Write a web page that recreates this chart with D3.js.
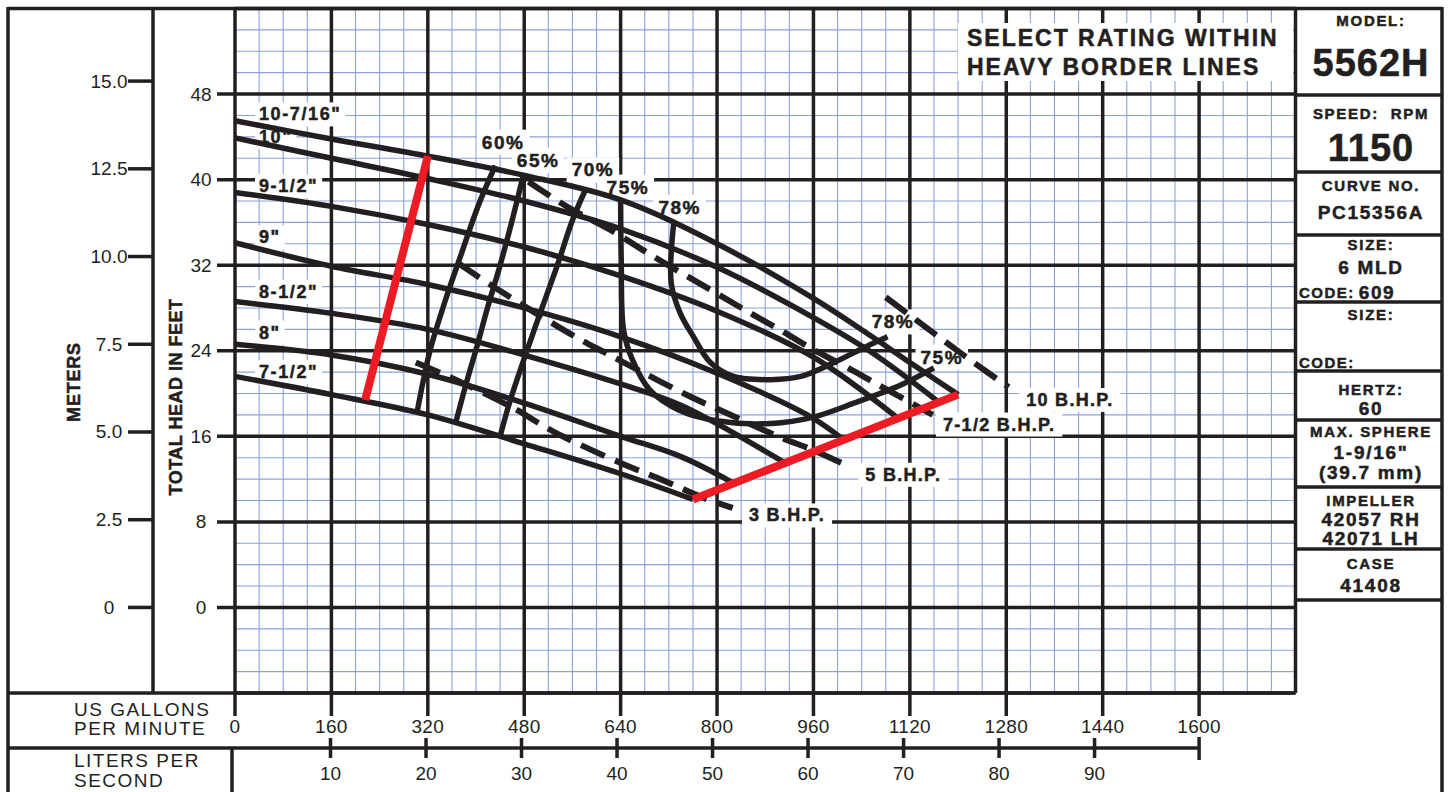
<!doctype html>
<html>
<head>
<meta charset="utf-8">
<title>5562H pump curve</title>
<script src="https://cdnjs.cloudflare.com/ajax/libs/d3/7.8.5/d3.min.js"></script>
<style>
  body { margin: 0; background: #fff; }
  svg { display: block; font-family: "Liberation Sans", Arial, sans-serif; }
</style>
</head>
<body>
<div id="chart"></div>
<script>
// flow in US gpm, head in feet
const impellers = ['10-7/16"', '10"', '9-1/2"', '9"', '8-1/2"', '8"', '7-1/2"'];
const impellerCurves = [
  [[0,45.5],[160,43.8],[320,42.2],[480,40.4],[640,38.1],[800,34.0],[960,28.9],[1055,25.4],[1120,22.9],[1200,19.9]],
  [[0,43.9],[160,42.0],[320,40.1],[480,38.0],[640,35.4],[800,31.8],[960,27.1],[1055,23.9],[1168,19.2]],
  [[0,38.8],[160,37.5],[320,35.8],[480,33.7],[640,31.0],[800,27.7],[960,23.4],[1100,17.7]],
  [[0,34.1],[160,31.9],[320,30.2],[480,28.0],[640,25.3],[800,21.9],[950,18.0],[1005,15.9]],
  [[0,28.6],[160,27.5],[320,26.0],[480,23.6],[640,20.9],[740,18.9],[910,13.6]],
  [[0,24.6],[160,23.6],[320,21.8],[480,19.1],[640,16.0],[740,14.1],[825,11.7]],
  [[0,21.6],[160,19.9],[320,18.0],[480,15.3],[640,12.5],[760,10.1]]
];
const impellerLabelFt = [46.1, 44.0, 39.4, 34.6, 29.5, 25.7, 22.0];

const efficiencies = ["60%", "65%", "70%", "75%", "78%"];
const efficiencyCurves = [
  [[432,41.3],[404,37.6],[374,32.8],[349,28.7],[324,24.1],[311,20.8],[302,18.2]],
  [[478,40.3],[460,36.2],[440,32.0],[420,28.2],[402,24.5],[382,20.6],[366,17.2]],
  [[582,39.1],[560,36.2],[535,32.0],[495,25.7],[457,19.4],[440,16.0]],
  [[640,38.2],[641,32.5],[645,25.9],[660,23.1],[689,20.3],[739,18.4],[806,17.4],[889,17.2],[960,17.8],[1027,19.1],[1105,20.8],[1160,22.4]],
  [[728,35.9],[724,30.3],[739,27.5],[761,25.3],[789,22.9],[827,21.6],[889,21.3],[939,21.6],[994,22.9],[1048,24.4],[1083,25.3]]
];
const efficiencyLabels = ["60%", "65%", "70%", "75%", "78%", "78%", "75%"];
const efficiencyLabelAt = [[445,43.5],[503,41.8],[594,40.9],[652,39.3],[738,37.4],[1092,26.7],[1173,23.4]];

const bhp = ["3 B.H.P.", "5 B.H.P.", "7-1/2 B.H.P.", "10 B.H.P."];
const bhpCurves = [
  [[300,22.9],[350,21.7],[460,18.7],[530,16.4],[640,13.5],[710,11.9],[775,10.3],[826,9.3]],
  [[370,32.2],[437,29.7],[565,25.3],[615,23.8],[686,21.7],[756,19.7],[811,18.3],[905,15.9],[960,14.7],[1022,13.1]],
  [[487,39.8],[553,37.4],[623,35.3],[689,33.0],[789,29.7],[859,27.4],[909,25.8],[960,24.1],[1017,22.4],[1068,20.8],[1158,18.0]],
  [[1080,29.0],[1163,25.5],[1221,23.1],[1284,20.6]]
];
const bhpLabelAt = [[853,8.6],[1046,12.4],[1175,17.1],[1313,19.4]];

// heavy border lines (allowable operating region)
const borderLines = [
  [[216,19.4],[320,42.2]],
  [[760,10.1],[1200,19.9]]
];

const gpmTicks = d3.range(0, 1601, 160);
const lpsTicks = [10, 20, 30, 40, 50, 60, 70, 80, 90];
const feetTicks = [0, 8, 16, 24, 32, 40, 48];
const meterTicks = [0, 2.5, 5, 7.5, 10, 12.5, 15];
const GPM_PER_LPS = 15.8503, FT_PER_M = 3.28084;

const panelRows = [95, 172, 235, 302, 371, 420, 487, 549, 600];
const panelTexts = [
  ["MODEL:", 20, "h"], ["5562H", 63, "big"],
  ["SPEED:  RPM", 113, "h"], ["1150", 148, "big"],
  ["CURVE NO.", 185, "h"], ["PC15356A", 212, "v"],
  ["SIZE:", 244, "h"], ["6 MLD", 267, "v"],
  ["SIZE:", 314, "h"],
  ["HERTZ:", 389, "h"], ["60", 408, "v"],
  ["MAX. SPHERE", 431, "h"], ['1-9/16"', 452, "v"], ["(39.7 mm)", 472, "v"],
  ["IMPELLER", 500, "h"], ["42057 RH", 519, "v"], ["42071 LH", 538, "v"],
  ["CASE", 563, "h"], ["41408", 585, "v"]
];

const W = 1448, H = 792;
const INK = "#231f20", RED = "#ed1c24", GRID = "#8da2dc";

const svg = d3.select("#chart").append("svg").attr("width", W).attr("height", H);

const x = d3.scaleLinear().domain([0, 1760]).range([235, 1295.5]);
const y = d3.scaleLinear().domain([-8, 56]).range([693, 8.5]);

const gGrid = svg.append("g");
const gBg = svg.append("g");
const gCurves = svg.append("g").attr("fill", "none");
const gText = svg.append("g").attr("fill", INK);

// ---- grid ----
gGrid.selectAll(".vmin").data(d3.range(0, 1761, 40)).join("line")
  .attr("x1", d => x(d)).attr("x2", d => x(d)).attr("y1", y(56)).attr("y2", y(-8))
  .attr("stroke", GRID).attr("stroke-width", 1.1);
gGrid.selectAll(".hmin").data(d3.range(-8, 57, 2)).join("line")
  .attr("y1", d => y(d)).attr("y2", d => y(d)).attr("x1", x(0)).attr("x2", x(1760))
  .attr("stroke", GRID).attr("stroke-width", 1.1);

function rule(x1, y1, x2, y2, w) {
  gGrid.append("line").attr("x1", x1).attr("y1", y1).attr("x2", x2).attr("y2", y2)
    .attr("stroke", INK).attr("stroke-width", w || 3.5);
}

d3.range(0, 1761, 160).forEach(g => rule(x(g), y(56), x(g), y(-8)));
d3.range(-8, 57, 8).forEach(f => rule(feetTicks.includes(f) ? 217 : x(0), y(f), x(1760), y(f)));

// frame and side axes
rule(8, y(56), 1442, y(56));
rule(8, y(56) - 1.5, 8, H);
rule(1442, y(56) - 1.5, 1442, H);
rule(153, y(56), 153, 693);
rule(8, 693, x(1760), 693);
rule(8, 748, x(1600), 748);
rule(232, 748, 232, H);

// meters axis
meterTicks.forEach(m => rule(128, y(m * FT_PER_M), 153, y(m * FT_PER_M)));
gText.selectAll(".mlab").data(meterTicks).join("text")
  .attr("x", 109).attr("y", d => y(d * FT_PER_M)).attr("text-anchor", "middle")
  .attr("dominant-baseline", "central").style("font-size", "19px")
  .text(d => d === 0 ? "0" : d.toFixed(1));

gText.selectAll(".flab").data(feetTicks).join("text")
  .attr("x", 201).attr("y", d => y(d)).attr("text-anchor", "middle")
  .attr("dominant-baseline", "central").style("font-size", "19px")
  .text(d => d);

// flow axes
gpmTicks.forEach(g => rule(x(g), 693, x(g), 716));
gText.selectAll(".glab").data(gpmTicks).join("text")
  .attr("x", d => x(d)).attr("y", 726).attr("text-anchor", "middle")
  .attr("dominant-baseline", "central").style("font-size", "19px").style("letter-spacing", "0.3px")
  .text(d => d);

lpsTicks.forEach(l => rule(x(l * GPM_PER_LPS), 738, x(l * GPM_PER_LPS), 758));
rule(x(1600), 737, x(1600), 760);
gText.selectAll(".llab").data(lpsTicks).join("text")
  .attr("x", d => x(d * GPM_PER_LPS)).attr("y", 773).attr("text-anchor", "middle")
  .attr("dominant-baseline", "central").style("font-size", "19px")
  .text(d => d);

function label(txt, px, py, opt) {
  const bold = (opt.weight || "bold") === "bold";
  const t = gText.append("text").attr("x", px).attr("y", py)
    .attr("text-anchor", opt.anchor || "start")
    .attr("dominant-baseline", "central")
    .style("font-size", opt.size + "px")
    .style("font-weight", opt.weight || "bold")
    .style("letter-spacing", (opt.ls || 0) + "px")
    .attr("stroke", bold ? INK : "none").attr("stroke-width", bold ? 0.5 : 0)
    .style("white-space", "pre")
    .text(txt);
  if (opt.bg) {
    const b = t.node().getBBox();
    gBg.append("rect").attr("x", b.x - opt.bg).attr("y", b.y - 2)
      .attr("width", b.width + 2 * opt.bg).attr("height", b.height + 4)
      .attr("fill", "#fff");
  }
  if (opt.rotate) t.attr("transform", `rotate(-90,${px},${py})`);
  return t;
}

label("US GALLONS", 74, 709, { size: 19, weight: "normal", ls: 1.5 });
label("PER MINUTE", 74, 728, { size: 19, weight: "normal", ls: 1.5 });
label("LITERS PER", 74, 760, { size: 19, weight: "normal", ls: 1.5 });
label("SECOND", 74, 780, { size: 19, weight: "normal", ls: 1.5 });
label("METERS", 74, 382, { size: 18, ls: 0.8, anchor: "middle", rotate: true });
label("TOTAL HEAD IN FEET", 176, 397, { size: 18, ls: 0.5, anchor: "middle", rotate: true });

// ---- curves ----
const line = d3.line().x(d => x(d[0])).y(d => y(d[1])).curve(d3.curveCatmullRom.alpha(0.5));
const straight = d3.line().x(d => x(d[0])).y(d => y(d[1]));

gCurves.selectAll(".imp").data(impellerCurves).join("path")
  .attr("d", line).attr("stroke", INK).attr("stroke-width", 5.5).attr("stroke-linecap", "butt");

gCurves.selectAll(".eff").data(efficiencyCurves).join("path")
  .attr("d", line).attr("stroke", INK).attr("stroke-width", 5.5);

gCurves.selectAll(".bhp").data(bhpCurves).join("path")
  .attr("d", line).attr("stroke", INK).attr("stroke-width", 6)
  .attr("stroke-dasharray", "26,11");

gCurves.selectAll(".border").data(borderLines).join("path")
  .attr("d", straight).attr("stroke", RED).attr("stroke-width", 8);

// ---- curve labels ----
impellers.forEach((n, i) => label(n, x(0) + 24, y(impellerLabelFt[i]), { size: 18, ls: 1.6, bg: 4 }));
efficiencyLabels.forEach((n, i) => label(n, x(efficiencyLabelAt[i][0]), y(efficiencyLabelAt[i][1]),
  { size: 19, ls: 1.5, anchor: "middle", bg: 5 }));
bhp.forEach((n, i) => label(n, x(bhpLabelAt[i][0]), y(bhpLabelAt[i][1]), { size: 18, ls: 1.3, bg: 7 }));

// rating note
label("SELECT RATING WITHIN", 967, 38, { size: 23, ls: 2 });
label("HEAVY BORDER LINES", 967, 67, { size: 23, ls: 2 });
gBg.append("rect").attr("x", 958).attr("y", 23).attr("width", 1293 - 958).attr("height", 58).attr("fill", "#fff");

// ---- info panel ----
panelRows.forEach(r => rule(x(1760), r, 1442, r));
const cx = 1371;
const styles = { h: { size: 15, ls: 1.7 }, big: { size: 38, ls: 1 }, v: { size: 19, ls: 1.7 } };
panelTexts.forEach(([t, py, k]) => label(t, cx, py, Object.assign({ anchor: "middle" }, styles[k])));

function codeLine(val, py) {
  const t = gText.append("text").attr("x", 1299).attr("y", py).attr("dominant-baseline", "central")
    .style("font-weight", "bold").attr("stroke", INK).attr("stroke-width", 0.5);
  t.append("tspan").style("font-size", "15px").style("letter-spacing", "1.5px").text("CODE:");
  if (val) t.append("tspan").attr("dx", 4).style("font-size", "19px").style("letter-spacing", "1.5px").text(val);
}
codeLine("609", 292);
codeLine("", 362);
</script>
</body>
</html>
